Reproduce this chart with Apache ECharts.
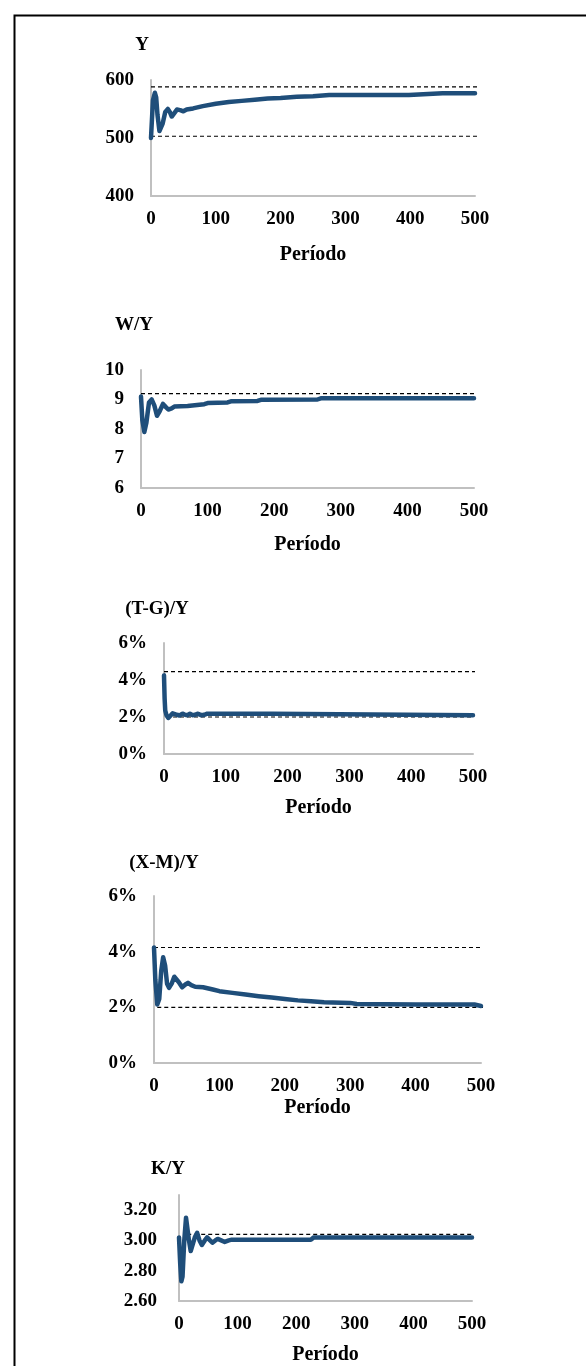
<!DOCTYPE html>
<html>
<head>
<meta charset="utf-8">
<script src="https://cdn.jsdelivr.net/npm/echarts@6/dist/echarts.min.js"></script>
<style>
  html, body { margin: 0; padding: 0; background: #fff; }
  #chart { width: 586px; height: 1366px; }
</style>
</head>
<body>
<div id="chart"></div>
<script>
// values: [periodo, valor]
var yData = [[0,500],[3,565],[6,578],[8,570],[10,540],[13,512],[15,511],[18,525],[22,545],[26,550],[29,545],[32,537],[35,538],[40,549],[45,548],[50,546],[55,549],[65,551],[80,555],[100,559],[120,562],[140,564],[160,566],[180,568],[200,569],[225,571],[250,572],[275,574],[300,574],[350,574],[398,574],[400,576],[450,577],[500,577]];
var wyData = [[0,9.1],[2,8.3],[5,7.9],[8,8.2],[12,8.9],[16,9.0],[20,8.8],[24,8.45],[28,8.6],[33,8.85],[37,8.75],[41,8.66],[46,8.7],[50,8.76],[70,8.78],[72,8.82],[95,8.84],[100,8.88],[130,8.9],[135,8.94],[175,8.95],[180,8.99],[265,9.0],[270,9.04],[500,9.04]];
var tgData = [[0,4.25],[1,3.0],[2,2.35],[4,2.1],[7,1.95],[10,2.0],[14,2.2],[17,2.25],[21,2.12],[25,2.08],[30,2.18],[34,2.12],[38,2.1],[42,2.18],[46,2.1],[50,2.12],[55,2.18],[60,2.1],[65,2.12],[70,2.18],[175,2.18],[178,2.1],[500,2.1]];
var xmData = [[0,4.15],[2,3.0],[5,2.1],[8,2.3],[11,3.3],[14,3.8],[17,3.5],[20,2.85],[23,2.7],[27,2.85],[31,3.1],[34,3.13],[38,2.9],[43,2.72],[48,2.82],[52,2.88],[57,2.8],[63,2.74],[75,2.72],[90,2.64],[100,2.58],[120,2.52],[140,2.46],[160,2.4],[180,2.35],[200,2.3],[220,2.25],[240,2.22],[260,2.18],[300,2.16],[310,2.12],[400,2.1],[490,2.1],[500,2.05]];
var kyData = [[0,3.02],[2,2.85],[4,2.73],[6,2.76],[9,3.0],[12,3.15],[14,3.14],[17,3.0],[20,2.93],[23,2.93],[27,3.02],[31,3.05],[35,3.0],[39,2.97],[44,3.0],[48,3.02],[53,3.0],[57,2.985],[62,3.0],[66,3.01],[72,3.0],[78,2.99],[85,3.0],[90,3.005],[225,3.005],[230,3.02],[500,3.02]];

// reference levels (dashed)
var yRef = [[[0,588],[512,588]], [[0,503],[525,503]]];
var wyRef = [[[0,9.2],[516,9.2]]];
var tgRef = [[[0,4.45],[518,4.45]], [[-8,2.0],[500,2.0]]];
var xmRef = [[[0,4.15],[506,4.15]], [[5,2.0],[511,2.0]]];
var kyRef = [[[14,3.04],[510,3.04]]];

var titles = ['Y', 'W/Y', '(T-G)/Y', '(X-M)/Y', 'K/Y'];
var xTicks = [0, 100, 200, 300, 400, 500];

var chart = echarts.init(document.getElementById('chart'));

var FONT = '"Liberation Serif", "Times New Roman", serif';
var BLUE = '#1f4e7a';

var panels = [
  { grid: { left: 151, top: 80, width: 324, height: 116 }, y: { min: 400, max: 600, interval: 100 }, fmt: function (v) { return v; }, data: yData, refs: yRef, nameGap: 49, title: [142, 45] },
  { grid: { left: 141, top: 370, width: 333, height: 118 }, y: { min: 6, max: 10, interval: 1 }, fmt: function (v) { return v; }, data: wyData, refs: wyRef, nameGap: 47, title: [134, 325] },
  { grid: { left: 164, top: 643, width: 309, height: 111 }, y: { min: 0, max: 6, interval: 2 }, fmt: function (v) { return v + '%'; }, data: tgData, refs: tgRef, nameGap: 44, title: [157, 609] },
  { grid: { left: 154, top: 896, width: 327, height: 167 }, y: { min: 0, max: 6, interval: 2 }, fmt: function (v) { return v + '%'; }, data: xmData, refs: xmRef, nameGap: 35, title: [164, 863] },
  { grid: { left: 179, top: 1195, width: 293, height: 111 }, y: { min: 2.6, max: 3.3, interval: 0.2 }, fmt: function (v) { return v.toFixed(2); }, data: kyData, refs: kyRef, nameGap: 44, title: [168, 1169] }
];

var grids = [], xAxes = [], yAxes = [], series = [], graphics = [];

graphics.push({
  type: 'rect', left: 12, top: 13, silent: true,
  shape: { width: 700, height: 1420 },
  style: { fill: 'none', stroke: '#000', lineWidth: 2 }
});

panels.forEach(function (p, i) {
  grids.push(p.grid);
  xAxes.push({
    type: 'value', gridIndex: i, min: 0, max: 500, interval: 100,
    name: 'Período', nameLocation: 'middle', nameGap: p.nameGap,
    nameTextStyle: { fontFamily: FONT, fontWeight: 'bold', fontSize: 20, color: '#000' },
    axisLine: { show: true, lineStyle: { color: '#c0c0c0', width: 2 } },
    axisTick: { show: false }, splitLine: { show: false },
    axisLabel: { fontFamily: FONT, fontWeight: 'bold', fontSize: 19, color: '#000', margin: 14 }
  });
  yAxes.push({
    type: 'value', gridIndex: i, min: p.y.min, max: p.y.max, interval: p.y.interval,
    axisLine: { show: true, lineStyle: { color: '#c0c0c0', width: 2 } },
    axisTick: { show: false }, splitLine: { show: false },
    axisLabel: { fontFamily: FONT, fontWeight: 'bold', fontSize: 19, color: '#000', margin: i === 4 ? 22 : 17, formatter: p.fmt, showMaxLabel: i !== 4 }
  });
  p.refs.forEach(function (r) {
    series.push({
      type: 'line', xAxisIndex: i, yAxisIndex: i, data: r, clip: false,
      symbol: 'none', silent: true, z: 1,
      lineStyle: { color: '#000', width: 1.2, type: [4, 3] }
    });
  });
  series.push({
    type: 'line', xAxisIndex: i, yAxisIndex: i, data: p.data,
    symbol: 'none', z: 3,
    lineStyle: { color: BLUE, width: 4.5, join: 'round', cap: 'round' }
  });
  graphics.push({
    type: 'text', x: p.title[0], y: p.title[1],
    style: { text: titles[i], fontFamily: FONT, fontWeight: 'bold', fontSize: 19, fill: '#000', align: 'center', verticalAlign: 'middle' }
  });
});

chart.setOption({
  backgroundColor: '#fff',
  animation: false,
  grid: grids,
  xAxis: xAxes,
  yAxis: yAxes,
  series: series,
  graphic: graphics
});

window.addEventListener('resize', function () {
  chart.resize();
});
</script>
</body>
</html>
